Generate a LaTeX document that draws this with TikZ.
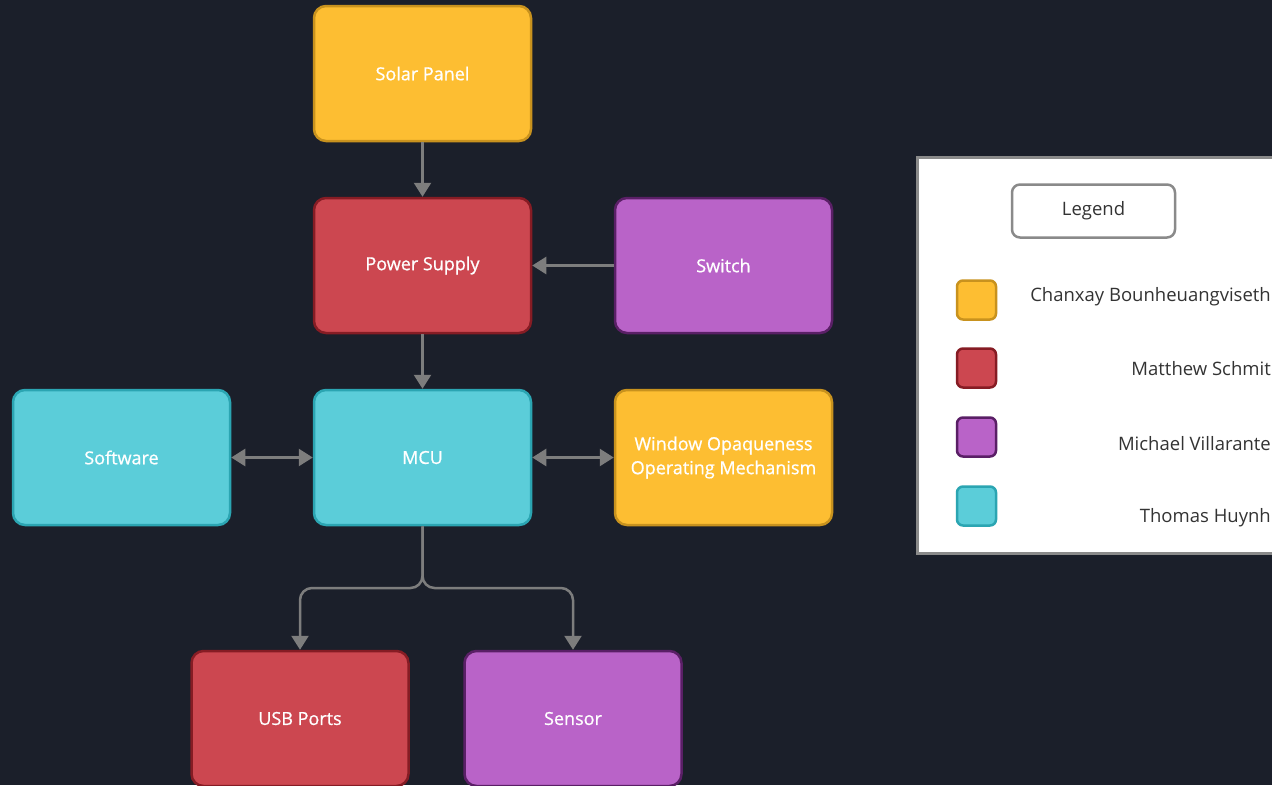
\documentclass[tikz,border=0pt]{standalone}
\usepackage{fontspec}
\setmainfont{Open Sans}
\newfontfamily\boxfont{Open Sans}[FakeBold=0.8]
\usetikzlibrary{arrows.meta}
\definecolor{bg}{HTML}{1B1F2A}
\definecolor{yfill}{HTML}{FDBE32}
\definecolor{ydraw}{HTML}{C8921E}
\definecolor{rfill}{HTML}{CC4750}
\definecolor{rdraw}{HTML}{861C24}
\definecolor{pfill}{HTML}{B963C8}
\definecolor{pdraw}{HTML}{5A1F66}
\definecolor{cfill}{HTML}{5BCDD9}
\definecolor{cdraw}{HTML}{2BA5B2}
\definecolor{conngray}{HTML}{7D7D7D}
\definecolor{framegray}{HTML}{8A8A8A}
\definecolor{ltext}{HTML}{333333}
\tikzset{
  box/.style={draw, rounded corners=12pt, line width=2.5pt, text=white,
    font=\boxfont\fontsize{18}{24}\selectfont, minimum width=217pt, minimum height=135pt,
    align=center, inner sep=0pt},
  ybox/.style={box, fill=yfill, draw=ydraw},
  rbox/.style={box, fill=rfill, draw=rdraw},
  pbox/.style={box, fill=pfill, draw=pdraw},
  cbox/.style={box, fill=cfill, draw=cdraw},
  conn/.style={draw=conngray, line width=2.5pt},
  tip/.tip={Triangle[width=17pt,length=14pt]},
  swatch/.style={draw, rounded corners=6pt, line width=2.5pt, minimum width=39pt, minimum height=39pt, inner sep=0pt},
  ltxt/.style={anchor=east, text=ltext, font=\fontsize{18.5}{20}\selectfont, inner sep=0pt},
}
\begin{document}
\begin{tikzpicture}[x=1pt,y=-1pt]
\fill[bg] (0,0) rectangle (1272,785);
\useasboundingbox (0,0) rectangle (1272,785);

\node[ybox] (solar) at (422.5,73.5) {Solar Panel};
\node[rbox] (power) at (422.5,265.5) {Power Supply};
\node[pbox] (switch) at (723.5,265.5) {Switch};
\node[cbox] (software) at (121.5,457.5) {Software};
\node[cbox] (mcu) at (422.5,457.5) {MCU};
\node[ybox] (window) at (723.5,457.5) {Window Opaqueness\\Operating Mechanism};
\node[rbox] (usb) at (300,718.5) {USB Ports};
\node[pbox] (sensor) at (573,718.5) {Sensor};

\coordinate (split) at (422.5,588);

\draw[conn,-tip] (solar) -- (power);
\draw[conn,-tip] (switch) -- (power);
\draw[conn,-tip] (power) -- (mcu);
\draw[conn,tip-tip] (software) -- (mcu);
\draw[conn,tip-tip] (mcu) -- (window);
\draw[conn,rounded corners=12pt,-tip] (mcu.south) -- (split) -| (usb.north);
\draw[conn,rounded corners=12pt,-tip] (mcu.south) -- (split) -| (sensor.north);

% legend
\node[draw=framegray, fill=white, line width=3pt, minimum width=380pt, minimum height=396pt,
  anchor=north west, inner sep=0pt] (legendframe) at (915.5,156) {};
\node[draw=framegray, rounded corners=8pt, line width=2.5pt, minimum width=163pt,
  minimum height=53pt, text=ltext, font=\fontsize{18.5}{20}\selectfont, inner sep=0pt]
  (legendtitle) at (1093.5,211) {\raisebox{-2.5pt}{Legend}};

\node[swatch, fill=yfill, draw=ydraw] (s1) at (976.5,300) {};
\node[swatch, fill=rfill, draw=rdraw] (s2) at (976.5,368) {};
\node[swatch, fill=pfill, draw=pdraw] (s3) at (976.5,437) {};
\node[swatch, fill=cfill, draw=cdraw] (s4) at (976.5,506) {};

\node[ltxt] (l1) at (1271,297) {Chanxay Bounheuangviseth};
\node[ltxt] (l2) at (1271,369) {Matthew Schmit};
\node[ltxt] (l3) at (1271,444) {Michael Villarante};
\node[ltxt] (l4) at (1271,518) {Thomas Huynh};
\end{tikzpicture}
\end{document}
